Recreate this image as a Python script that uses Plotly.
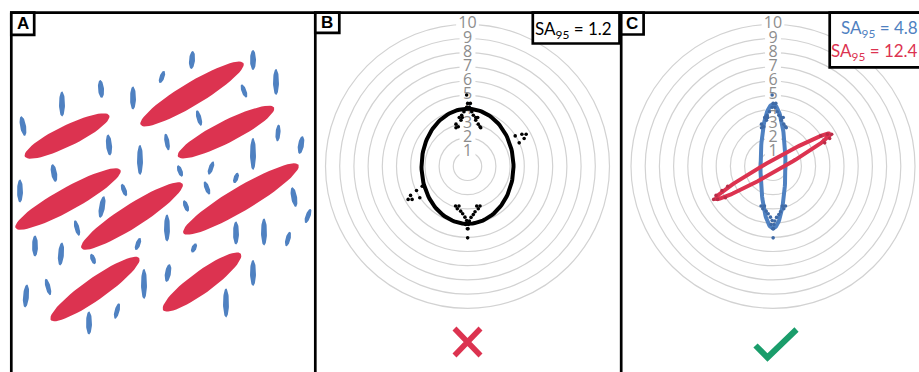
import numpy as np
import plotly.graph_objects as go

W, H = 919, 372
RED = "#dc3350"
BLUE = "#4f81c1"
GREEN = "#1a9d6b"

# ---------------- Panel A: field of particles ----------------
# large tilted particles (x, y from lower-left of panel; semi-axes; angle from +x in degrees)
red_cx = [57, 182, 216, 58, 122, 231, 85, 192]
red_cy = [236, 278, 240, 173, 156, 173, 83, 90]
red_a = [47, 60, 54, 60, 60, 67, 54, 48]
red_b = [10.5, 11.5, 11, 11.5, 11.5, 12, 11, 11]
red_ang = [26, 31, 27, 29, 32.6, 30.7, 35, 36]

# small near-vertical particles (length along long axis, tilt from vertical, + leans right)
blue_cx = [13, 52, 91, 123, 152, 182, 243, 266, 234, 189, 99, 130, 157, 268, 291, 243,
           44, 10, 170, 201, 226, 114, 197, 176, 92, 284, 298, 67, 157, 226, 254, 278,
           25, 51, 128, 184, 83, 134, 158, 243, 38, 16, 107, 79, 216]
blue_cy = [246, 268, 283, 274, 295, 312, 312, 290, 281, 254, 227, 212, 230, 239, 227, 218,
           199, 181, 201, 204, 194, 182, 184, 166, 165, 175, 156, 144, 144, 139, 140, 133,
           126, 118, 128, 124, 113, 88, 99, 99, 85, 76, 61, 49, 69]
blue_len = [20, 25, 18, 23, 13, 18, 20, 26, 14, 16, 21, 30, 17, 17, 18, 32,
            18, 23, 12, 14, 11, 13, 14, 12, 22, 20, 15, 16, 27, 23, 27, 15,
            21, 23, 13, 10, 11, 30, 18, 26, 17, 23, 16, 23, 29]
blue_tilt = [-10, 0, -5, 0, 20, 5, 0, 0, -20, -15, -5, 0, -10, 5, 10, 0,
             -10, 0, -20, 20, 20, -20, -20, -20, 10, -10, 20, -15, 0, 0, 0, 15,
             0, 5, 20, 25, -20, 0, 10, 0, -15, 5, 15, 0, 0]

# ---------------- Panels B and C: orientation data ----------------
rings = list(range(1, 11))
ring_labels = [str(r) for r in rings]

pts_x = [-0.06, 0.01, 0.20, -0.06, 0.13,
         -0.25, -0.41, -0.58, -0.37, -0.46, -0.81, -0.65, -0.81,
         0.30, 0.41, 0.58, 0.72, 0.58, 0.76, 0.88, 0.93,
         -0.84, -0.60, -0.72, -0.48, -0.34, -0.18, -0.06, -0.13, -0.01, 0.01,
         0.65, 0.88, 0.76, 0.53, 0.41, 0.25, 0.13, 0.06, 0.04,
         3.36, 3.83, 4.13, 3.99, 3.64,
         -3.59, -3.36, -4.18, -3.90, -4.01, -3.19]
pts_y = [5.02, 4.43, 4.43, 4.15, 4.15,
         3.84, 3.60, 3.44, 3.44, 3.25, 2.97, 2.78, 2.71,
         3.84, 3.60, 3.44, 3.44, 3.25, 2.97, 2.78, 2.71,
         -2.80, -2.80, -2.99, -3.16, -3.34, -3.58, -3.82, -4.10, -4.40, -5.04,
         -2.80, -2.80, -2.99, -3.20, -3.40, -3.60, -3.85, -4.10, -4.40,
         2.14, 2.26, 2.26, 1.96, 1.65,
         -1.70, -2.21, -2.33, -2.33, -2.05, -1.41]
pts_group = ["axial"] * 40 + ["oblique"] * 11

# fitted 95% ellipses: semi-major, semi-minor, angle (deg from +x)
fit_all = dict(a=4.05, b=3.24, ang_deg=90)
fit_axial = dict(a=4.36, b=0.88, ang_deg=90)
fit_oblique = dict(a=4.64, b=0.40, ang_deg=29.5)
sa_all, sa_axial, sa_oblique = "1.2", "4.8", "12.4"


def ellipse_xy(cx, cy, a, b, ang_deg, n=140):
    t = np.linspace(0, 2 * np.pi, n)
    th = np.radians(ang_deg)
    x = cx + a * np.cos(t) * np.cos(th) - b * np.sin(t) * np.sin(th)
    y = cy + a * np.cos(t) * np.sin(th) + b * np.sin(t) * np.cos(th)
    return x, y


def merged(cxs, cys, As, Bs, angs):
    xs, ys = [], []
    for cx, cy, a, b, g in zip(cxs, cys, As, Bs, angs):
        x, y = ellipse_xy(cx, cy, a, b, g, 60)
        xs += list(x) + [None]
        ys += list(y) + [None]
    return xs, ys


fig = go.Figure()

# panel A
bx, by = merged(blue_cx, blue_cy, [l / 2 for l in blue_len],
                [3.0 if l >= 18 else 2.5 for l in blue_len],
                [90 - t for t in blue_tilt])
fig.add_trace(go.Scatter(x=bx, y=by, mode="lines", fill="toself", fillcolor=BLUE,
                         line=dict(width=0, color=BLUE), xaxis="x", yaxis="y",
                         hoverinfo="skip"))
rx, ry = merged(red_cx, red_cy, red_a, red_b, red_ang)
fig.add_trace(go.Scatter(x=rx, y=ry, mode="lines", fill="toself", fillcolor=RED,
                         line=dict(width=0, color=RED), xaxis="x", yaxis="y",
                         hoverinfo="skip"))

ax_names = {"B": ("x2", "y2"), "C": ("x3", "y3")}
for panel, (xa, ya) in ax_names.items():
    fig.add_trace(go.Scatter(x=[0] * len(rings), y=rings, mode="text", text=ring_labels,
                             textposition="middle center",
                             textfont=dict(family="Open Sans", size=16, color="#8d8d8d"),
                             xaxis=xa, yaxis=ya, hoverinfo="skip"))

# panel B: one ellipse for all data
ex, ey = ellipse_xy(0, 0, **fit_all)
fig.add_trace(go.Scatter(x=ex, y=ey, mode="lines", line=dict(color="black", width=4),
                         xaxis="x2", yaxis="y2", hoverinfo="skip"))
fig.add_trace(go.Scatter(x=pts_x, y=pts_y, mode="markers",
                         marker=dict(color="black", size=3.6), xaxis="x2", yaxis="y2"))

# panel C: one ellipse per group
ex, ey = ellipse_xy(0, 0, **fit_axial)
fig.add_trace(go.Scatter(x=ex, y=ey, mode="lines", line=dict(color=BLUE, width=4),
                         xaxis="x3", yaxis="y3", hoverinfo="skip"))
ex, ey = ellipse_xy(0, 0, **fit_oblique)
fig.add_trace(go.Scatter(x=ex, y=ey, mode="lines", line=dict(color=RED, width=4),
                         xaxis="x3", yaxis="y3", hoverinfo="skip"))
for grp, col in (("axial", "#3f6aa6"), ("oblique", "#b92c47")):
    gx = [x for x, g in zip(pts_x, pts_group) if g == grp]
    gy = [y for y, g in zip(pts_y, pts_group) if g == grp]
    fig.add_trace(go.Scatter(x=gx, y=gy, mode="markers", marker=dict(color=col, size=3.6),
                             xaxis="x3", yaxis="y3"))

# ---------------- layout geometry (pixels) ----------------
S = 14.2          # pixels per ring unit
CY = 166.3        # ring centre (pixels from top)
TOP = 12


def fx(px):
    return px / W


def fy(py):
    return 1 - py / H


hidden = dict(visible=False, showgrid=False, zeroline=False, fixedrange=True)
layout_axes = {}
layout_axes["xaxis"] = dict(hidden, domain=[fx(10), fx(314)], range=[0, 304])
layout_axes["yaxis"] = dict(hidden, domain=[0, fy(TOP)], range=[0, H - TOP])
for (xa, ya), (x0, x1, cx) in zip([("xaxis2", "yaxis2"), ("xaxis3", "yaxis3")],
                                  [(314, 620, 467.5), (620, 919, 773)]):
    layout_axes[xa] = dict(hidden, domain=[fx(x0), fx(x1)],
                           range=[(x0 - cx) / S, (x1 - cx) / S])
    layout_axes[ya] = dict(hidden, domain=[0, fy(TOP)],
                           range=[(CY - H) / S, (CY - TOP) / S])

shapes = []
# range rings and the white patches behind their labels
for xr, yr in (("x2", "y2"), ("x3", "y3")):
    for r in rings:
        shapes.append(dict(type="circle", xref=xr, yref=yr, x0=-r, x1=r, y0=-r, y1=r,
                           line=dict(color="#d2d2d2", width=1.2), layer="below"))
    for r, lab in zip(rings, ring_labels):
        hw = 0.8 if len(lab) > 1 else 0.56
        shapes.append(dict(type="rect", xref=xr, yref=yr, x0=-hw, x1=hw, y0=r - 0.4,
                           y1=r + 0.4, line=dict(width=0), fillcolor="white", layer="below"))

BL = dict(color="black", width=2.7)


def pline(x0, y0, x1, y1, line=BL):
    shapes.append(dict(type="line", xref="paper", yref="paper", x0=fx(x0), y0=fy(y0),
                       x1=fx(x1), y1=fy(y1), line=line))


def prect(x0, y0, x1, y1):
    shapes.append(dict(type="rect", xref="paper", yref="paper", x0=fx(x0), y0=fy(y0),
                       x1=fx(x1), y1=fy(y1), line=BL, fillcolor="white"))


# panel frames
pline(10, 12.7, 925, 12.7)
for xv in (11.3, 315.3, 621.2):
    pline(xv, 12.7, xv, 380)
# panel letter boxes
prect(11.3, 12.7, 34.2, 34.8)
prect(315.3, 12.7, 339.3, 32.8)
prect(621.2, 12.7, 643.6, 34.5)
# statistic boxes
prect(532.8, 12.7, 619.5, 43.5)
prect(829.7, 12.7, 925, 67.3)

# verdict marks
shapes.append(dict(type="path", xref="paper", yref="paper",
                   path=f"M{fx(454.5)},{fy(328.5)} L{fx(480.5)},{fy(355.5)} "
                        f"M{fx(454.5)},{fy(355.5)} L{fx(480.5)},{fy(328.5)}",
                   line=dict(color=RED, width=5.5)))
shapes.append(dict(type="path", xref="paper", yref="paper",
                   path=f"M{fx(755.5)},{fy(345.5)} L{fx(767.5)},{fy(357.5)} "
                        f"L{fx(796.5)},{fy(329.5)}",
                   line=dict(color=GREEN, width=6)))

annotations = []
for letter, xc, yc in (("A", 22.7, 24), ("B", 327.3, 23), ("C", 632.4, 23.8)):
    annotations.append(dict(xref="paper", yref="paper", x=fx(xc), y=fy(yc),
                            text=f"<b>{letter}</b>", showarrow=False,
                            xanchor="center", yanchor="middle",
                            font=dict(family="Liberation Sans", size=17, color="black")))


def sa_note(val, color, x_right, y_mid):
    annotations.append(dict(xref="paper", yref="paper", x=fx(x_right), y=fy(y_mid),
                            text=f"SA<sub>95</sub> = {val}", showarrow=False,
                            xanchor="right", yanchor="middle",
                            font=dict(family="Lato", size=17, color=color)))


sa_note(sa_all, "black", 614, 30)
sa_note(sa_axial, BLUE, 920, 29)
sa_note(sa_oblique, RED, 920, 52.5)

fig.update_layout(width=W, height=H, margin=dict(l=0, r=0, t=0, b=0),
                  paper_bgcolor="white", plot_bgcolor="rgba(0,0,0,0)",
                  showlegend=False, shapes=shapes, annotations=annotations,
                  **layout_axes)

fig.write_html("out.html")
